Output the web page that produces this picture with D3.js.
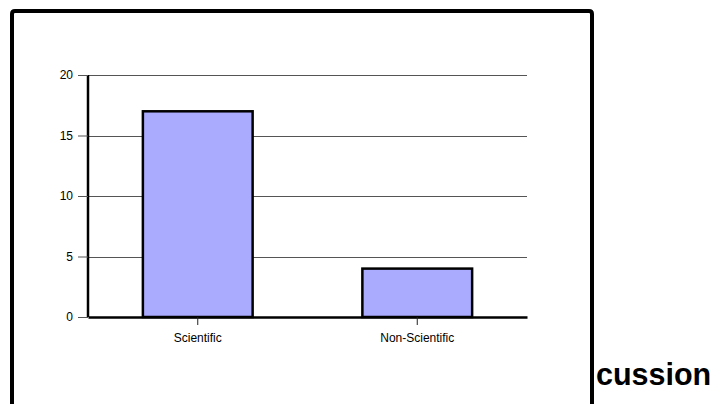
<!DOCTYPE html>
<html>
<head>
<meta charset="utf-8">
<script src="https://cdn.jsdelivr.net/npm/d3@7"></script>
<style>
  html, body { margin: 0; padding: 0; background: #fff; }
  svg { display: block; }
</style>
</head>
<body>
<svg id="chart" width="715" height="404"></svg>
<script>
// Survey counts by response type
const categories = ["Scientific", "Non-Scientific"];
const counts = [17, 4];
const yTicks = [0, 5, 10, 15, 20];

const svg = d3.select("#chart");

// Slide frame around the chart
svg.append("path")
  .attr("d", "M12,420 L12,14 Q12,11 15,11 L589,11 Q592,11 592,14 L592,420")
  .attr("fill", "none")
  .attr("stroke", "#000")
  .attr("stroke-width", 4);

// Heading text running past the frame
svg.append("text")
  .attr("x", 596)
  .attr("y", 385)
  .attr("font-family", "Liberation Sans, Arial, sans-serif")
  .attr("font-weight", "bold")
  .attr("font-size", 30.5)
  .attr("fill", "#000")
  .text("cussion");

const plot = { left: 88, right: 527, top: 75, bottom: 317 };

const x = d3.scaleBand()
  .domain(categories)
  .range([plot.left, plot.right])
  .paddingInner(0.5)
  .paddingOuter(0.25);

const y = d3.scaleLinear()
  .domain([0, 20])
  .range([plot.bottom, plot.top]);

// Horizontal gridlines
svg.append("g")
  .selectAll("line")
  .data(yTicks.filter(d => d > 0))
  .join("line")
  .attr("x1", plot.left)
  .attr("x2", plot.right)
  .attr("y1", d => Math.round(y(d)) + 0.5)
  .attr("y2", d => Math.round(y(d)) + 0.5)
  .attr("stroke", "#555")
  .attr("stroke-width", 1);

// Y axis
const yAxis = svg.append("g")
  .attr("transform", `translate(${plot.left},0)`)
  .call(d3.axisLeft(y).tickValues(yTicks).tickSize(10).tickPadding(5).tickFormat(d3.format("d")));
yAxis.select(".domain").attr("stroke-width", 2.5).attr("d", `M0,${plot.top}V${plot.bottom}`);
yAxis.selectAll(".tick line").attr("stroke", "#555");
yAxis.selectAll(".tick text")
  .attr("font-family", "Liberation Sans, Arial, sans-serif")
  .attr("font-size", 12)
  .attr("fill", "#000");

// Bars
svg.append("g")
  .selectAll("rect")
  .data(categories.map((c, i) => ({ c, v: counts[i] })))
  .join("rect")
  .attr("x", d => x(d.c))
  .attr("y", d => y(d.v))
  .attr("width", x.bandwidth())
  .attr("height", d => y(0) - y(d.v))
  .attr("fill", "#AAAAFF")
  .attr("stroke", "#000")
  .attr("stroke-width", 2.5);

// X axis (baseline)
const xAxis = svg.append("g")
  .attr("transform", `translate(0,${plot.bottom})`)
  .call(d3.axisBottom(x).tickSize(8).tickSizeOuter(0).tickPadding(8));
xAxis.select(".domain").attr("stroke-width", 2.5);
xAxis.selectAll(".tick line").attr("stroke", "#222");
xAxis.selectAll(".tick text")
  .attr("font-family", "Liberation Sans, Arial, sans-serif")
  .attr("font-size", 12)
  .attr("fill", "#000");
</script>
</body>
</html>
